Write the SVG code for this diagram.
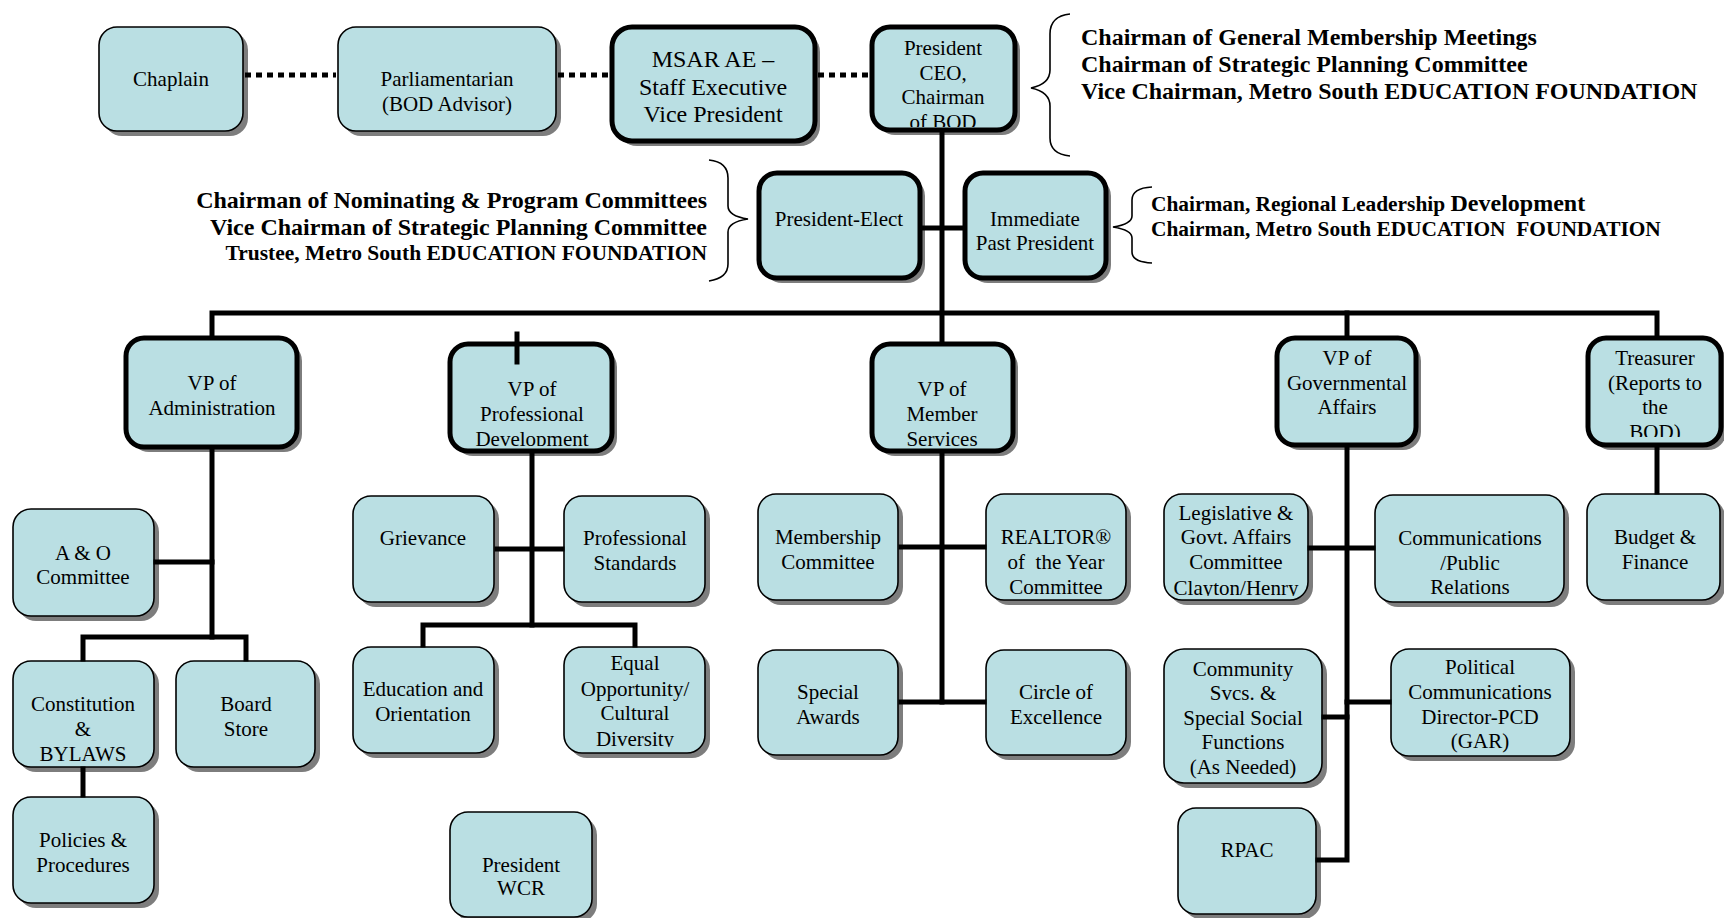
<svg xmlns="http://www.w3.org/2000/svg" width="1724" height="918" viewBox="0 0 1724 918">
<style>
.bx{fill:#badfe3;stroke:#000;stroke-width:1.6}
.tk{fill:#badfe3;stroke:#000;stroke-width:5}
.sh{fill:#7d7d7d}
.t{font-family:"Liberation Serif","Times New Roman",serif;font-size:21px;fill:#000;text-anchor:middle}
.tb{font-family:"Liberation Serif","Times New Roman",serif;font-size:24px;font-weight:bold;fill:#000}
.ln{stroke:#000;stroke-width:5;fill:none;stroke-linecap:square}
.dot{stroke:#000;stroke-width:5;fill:none;stroke-dasharray:6 5}
.br{stroke:#000;stroke-width:1.6;fill:none}
</style>
<defs>
<clipPath id="cPres"><rect x="874" y="29" width="139" height="98"/></clipPath>
<clipPath id="cProf"><rect x="452" y="346" width="158" height="100"/></clipPath>
<clipPath id="cMem"><rect x="874" y="346" width="137" height="101"/></clipPath>
<clipPath id="cTre"><rect x="1590" y="340" width="129" height="97"/></clipPath>
<clipPath id="cEq"><rect x="565" y="649" width="139" height="98"/></clipPath>
<clipPath id="cLeg"><rect x="1165" y="495" width="142" height="101"/></clipPath>
</defs>

<g id="braces">
<path class="br" d="M1070,14 Q1050,16 1050,34 L1050,70 Q1050,84 1031,88 Q1050,92 1050,106 L1050,138 Q1050,154 1070,156"/>
<path class="br" d="M709,160 Q728,162 728,178 L728,206 Q728,216 748,219 Q728,222 728,232 L728,264 Q728,278 709,281"/>
<path class="br" d="M1152,187 Q1132,188 1132,200 L1132,216 Q1132,224 1113,227 Q1132,230 1132,238 L1132,252 Q1132,262 1152,263"/>
</g>

<g id="notes">
<text class="tb" x="1081" y="45">Chairman of General Membership Meetings</text>
<text class="tb" x="1081" y="72">Chairman of Strategic Planning Committee</text>
<text class="tb" x="1081" y="99">Vice Chairman, Metro South EDUCATION FOUNDATION</text>
<text class="tb" x="707" y="208" text-anchor="end">Chairman of Nominating &amp; Program Committees</text>
<text class="tb" x="707" y="235" text-anchor="end">Vice Chairman of Strategic Planning Committee</text>
<text class="tb" x="707" y="260" text-anchor="end" style="font-size:21.5px">Trustee, Metro South EDUCATION FOUNDATION</text>
<text class="tb" x="1151" y="211" style="font-size:21.4px">Chairman, Regional Leadership <tspan style="font-size:24px">Development</tspan></text>
<text class="tb" x="1151" y="236" style="font-size:21.4px" xml:space="preserve">Chairman, Metro South EDUCATION  FOUNDATION</text>
</g>

<g id="chaplain"><rect class="sh" x="104" y="32" width="144" height="104" rx="18"/><rect class="bx" x="99" y="27" width="144" height="104" rx="18"/><text class="t" x="171" y="86">Chaplain</text></g>
<g id="parliamentarian"><rect class="sh" x="343" y="32" width="218" height="104" rx="18"/><rect class="bx" x="338" y="27" width="218" height="104" rx="18"/><text class="t" x="447" y="86">Parliamentarian</text><text class="t" x="447" y="111">(BOD Advisor)</text></g>
<g id="msar"><rect class="sh" x="617" y="32" width="203" height="114" rx="20"/><rect class="tk" x="612" y="27" width="203" height="114" rx="20"/><text class="t" x="713" y="67" style="font-size:24px">MSAR AE –</text><text class="t" x="713" y="95" style="font-size:24px">Staff Executive</text><text class="t" x="713" y="122" style="font-size:24px">Vice President</text></g>
<g id="president"><rect class="sh" x="877" y="32" width="143" height="103" rx="18"/><rect class="tk" x="872" y="27" width="143" height="103" rx="18"/><g clip-path="url(#cPres)"><text class="t" x="943" y="55">President</text><text class="t" x="943" y="80">CEO,</text><text class="t" x="943" y="104">Chairman</text><text class="t" x="943" y="129">of BOD</text></g></g>
<g id="president-elect"><rect class="sh" x="764" y="178" width="161" height="105" rx="18"/><rect class="tk" x="759" y="173" width="161" height="105" rx="18"/><text class="t" x="839" y="226">President-Elect</text></g>
<g id="immediate-past"><rect class="sh" x="970" y="178" width="141" height="105" rx="18"/><rect class="tk" x="965" y="173" width="141" height="105" rx="18"/><text class="t" x="1035" y="226">Immediate</text><text class="t" x="1035" y="250">Past President</text></g>

<g id="vp-admin"><rect class="sh" x="131" y="343" width="171" height="109" rx="18"/><rect class="tk" x="126" y="338" width="171" height="109" rx="18"/><text class="t" x="212" y="390">VP of</text><text class="t" x="212" y="415">Administration</text></g>
<g id="vp-prof"><rect class="sh" x="455" y="349" width="162" height="107" rx="18"/><rect class="tk" x="450" y="344" width="162" height="107" rx="18"/><g clip-path="url(#cProf)"><text class="t" x="532" y="396">VP of</text><text class="t" x="532" y="421">Professional</text><text class="t" x="532" y="446">Development</text></g></g>
<g id="vp-member"><rect class="sh" x="877" y="349" width="141" height="107" rx="18"/><rect class="tk" x="872" y="344" width="141" height="107" rx="18"/><g clip-path="url(#cMem)"><text class="t" x="942" y="396">VP of</text><text class="t" x="942" y="421">Member</text><text class="t" x="942" y="446">Services</text></g></g>
<g id="vp-gov"><rect class="sh" x="1282" y="343" width="139" height="107" rx="18"/><rect class="tk" x="1277" y="338" width="139" height="107" rx="18"/><text class="t" x="1347" y="365">VP of</text><text class="t" x="1347" y="390">Governmental</text><text class="t" x="1347" y="414">Affairs</text></g>
<g id="treasurer"><rect class="sh" x="1593" y="343" width="133" height="107" rx="18"/><rect class="tk" x="1588" y="338" width="133" height="107" rx="18"/><g clip-path="url(#cTre)"><text class="t" x="1655" y="365">Treasurer</text><text class="t" x="1655" y="390">(Reports to</text><text class="t" x="1655" y="414">the</text><text class="t" x="1655" y="439">BOD)</text></g></g>

<g id="ao-committee"><rect class="sh" x="18" y="514" width="141" height="107" rx="18"/><rect class="bx" x="13" y="509" width="141" height="107" rx="18"/><text class="t" x="83" y="560">A &amp; O</text><text class="t" x="83" y="584">Committee</text></g>
<g id="constitution"><rect class="sh" x="18" y="666" width="141" height="106" rx="18"/><rect class="bx" x="13" y="661" width="141" height="106" rx="18"/><text class="t" x="83" y="711">Constitution</text><text class="t" x="83" y="736">&amp;</text><text class="t" x="83" y="761">BYLAWS</text></g>
<g id="board-store"><rect class="sh" x="181" y="666" width="139" height="106" rx="18"/><rect class="bx" x="176" y="661" width="139" height="106" rx="18"/><text class="t" x="246" y="711">Board</text><text class="t" x="246" y="736">Store</text></g>
<g id="policies"><rect class="sh" x="18" y="802" width="141" height="106" rx="18"/><rect class="bx" x="13" y="797" width="141" height="106" rx="18"/><text class="t" x="83" y="847">Policies &amp;</text><text class="t" x="83" y="872">Procedures</text></g>

<g id="grievance"><rect class="sh" x="358" y="501" width="141" height="106" rx="18"/><rect class="bx" x="353" y="496" width="141" height="106" rx="18"/><text class="t" x="423" y="545">Grievance</text></g>
<g id="prof-standards"><rect class="sh" x="569" y="501" width="141" height="106" rx="18"/><rect class="bx" x="564" y="496" width="141" height="106" rx="18"/><text class="t" x="635" y="545">Professional</text><text class="t" x="635" y="570">Standards</text></g>
<g id="education"><rect class="sh" x="358" y="652" width="141" height="106" rx="18"/><rect class="bx" x="353" y="647" width="141" height="106" rx="18"/><text class="t" x="423" y="696">Education and</text><text class="t" x="423" y="721">Orientation</text></g>
<g id="equal-opportunity"><rect class="sh" x="569" y="652" width="141" height="106" rx="18"/><rect class="bx" x="564" y="647" width="141" height="106" rx="18"/><g clip-path="url(#cEq)"><text class="t" x="635" y="670">Equal</text><text class="t" x="635" y="696">Opportunity/</text><text class="t" x="635" y="720">Cultural</text><text class="t" x="635" y="746">Diversity</text></g></g>
<g id="president-wcr"><rect class="sh" x="455" y="817" width="142" height="105" rx="18"/><rect class="bx" x="450" y="812" width="142" height="105" rx="18"/><text class="t" x="521" y="872">President</text><text class="t" x="521" y="895">WCR</text></g>

<g id="membership"><rect class="sh" x="763" y="499" width="140" height="106" rx="18"/><rect class="bx" x="758" y="494" width="140" height="106" rx="18"/><text class="t" x="828" y="544">Membership</text><text class="t" x="828" y="569">Committee</text></g>
<g id="realtor-of-year"><rect class="sh" x="991" y="499" width="140" height="106" rx="18"/><rect class="bx" x="986" y="494" width="140" height="106" rx="18"/><text class="t" x="1056" y="544">REALTOR®</text><text class="t" x="1056" y="569" xml:space="preserve">of  the Year</text><text class="t" x="1056" y="594">Committee</text></g>
<g id="special-awards"><rect class="sh" x="763" y="655" width="140" height="105" rx="18"/><rect class="bx" x="758" y="650" width="140" height="105" rx="18"/><text class="t" x="828" y="699">Special</text><text class="t" x="828" y="724">Awards</text></g>
<g id="circle-excellence"><rect class="sh" x="991" y="655" width="140" height="105" rx="18"/><rect class="bx" x="986" y="650" width="140" height="105" rx="18"/><text class="t" x="1056" y="699">Circle of</text><text class="t" x="1056" y="724">Excellence</text></g>

<g id="legislative"><rect class="sh" x="1169" y="499" width="144" height="106" rx="18"/><rect class="bx" x="1164" y="494" width="144" height="106" rx="18"/><g clip-path="url(#cLeg)"><text class="t" x="1236" y="520">Legislative &amp;</text><text class="t" x="1236" y="544">Govt. Affairs</text><text class="t" x="1236" y="569">Committee</text><text class="t" x="1236" y="595">Clayton/Henry</text></g></g>
<g id="communications"><rect class="sh" x="1380" y="500" width="189" height="107" rx="18"/><rect class="bx" x="1375" y="495" width="189" height="107" rx="18"/><text class="t" x="1470" y="545">Communications</text><text class="t" x="1470" y="570">/Public</text><text class="t" x="1470" y="594">Relations</text></g>
<g id="budget"><rect class="sh" x="1592" y="499" width="133" height="106" rx="18"/><rect class="bx" x="1587" y="494" width="133" height="106" rx="18"/><text class="t" x="1655" y="544">Budget &amp;</text><text class="t" x="1655" y="569">Finance</text></g>
<g id="community"><rect class="sh" x="1169" y="654" width="158" height="134" rx="20"/><rect class="bx" x="1164" y="649" width="158" height="134" rx="20"/><text class="t" x="1243" y="676">Community</text><text class="t" x="1243" y="700">Svcs. &amp;</text><text class="t" x="1243" y="725">Special Social</text><text class="t" x="1243" y="749">Functions</text><text class="t" x="1243" y="774">(As Needed)</text></g>
<g id="political"><rect class="sh" x="1396" y="654" width="179" height="107" rx="18"/><rect class="bx" x="1391" y="649" width="179" height="107" rx="18"/><text class="t" x="1480" y="674">Political</text><text class="t" x="1480" y="699">Communications</text><text class="t" x="1480" y="724">Director-PCD</text><text class="t" x="1480" y="748">(GAR)</text></g>
<g id="rpac"><rect class="sh" x="1183" y="813" width="138" height="106" rx="18"/><rect class="bx" x="1178" y="808" width="138" height="106" rx="18"/><text class="t" x="1247" y="857">RPAC</text></g>

<g id="connectors">
<line class="dot" x1="245" y1="75" x2="336" y2="75"/>
<line class="dot" x1="558" y1="75" x2="610" y2="75"/>
<line class="dot" x1="818" y1="75" x2="870" y2="75"/>
<line class="ln" x1="942" y1="132" x2="942" y2="341"/>
<line class="ln" x1="922" y1="228" x2="963" y2="228"/>
<polyline class="ln" points="212,335 212,313 1657,313 1657,335"/>
<line class="ln" x1="1347" y1="313" x2="1347" y2="335"/>
<line class="ln" x1="517" y1="334" x2="517" y2="362"/>
<line class="ln" x1="212" y1="450" x2="212" y2="637"/>
<line class="ln" x1="156" y1="562" x2="212" y2="562"/>
<polyline class="ln" points="83,659 83,637 246,637 246,659"/>
<line class="ln" x1="83" y1="769" x2="83" y2="795"/>
<line class="ln" x1="532" y1="454" x2="532" y2="625"/>
<line class="ln" x1="497" y1="549" x2="562" y2="549"/>
<polyline class="ln" points="423,645 423,625 635,625 635,645"/>
<line class="ln" x1="942" y1="454" x2="942" y2="702"/>
<line class="ln" x1="901" y1="547" x2="984" y2="547"/>
<line class="ln" x1="901" y1="702" x2="984" y2="702"/>
<polyline class="ln" points="1347,448 1347,860 1318,860"/>
<line class="ln" x1="1310" y1="548" x2="1373" y2="548"/>
<line class="ln" x1="1324" y1="717" x2="1347" y2="717"/>
<line class="ln" x1="1347" y1="702" x2="1389" y2="702"/>
<line class="ln" x1="1657" y1="448" x2="1657" y2="492"/>
</g>
</svg>
